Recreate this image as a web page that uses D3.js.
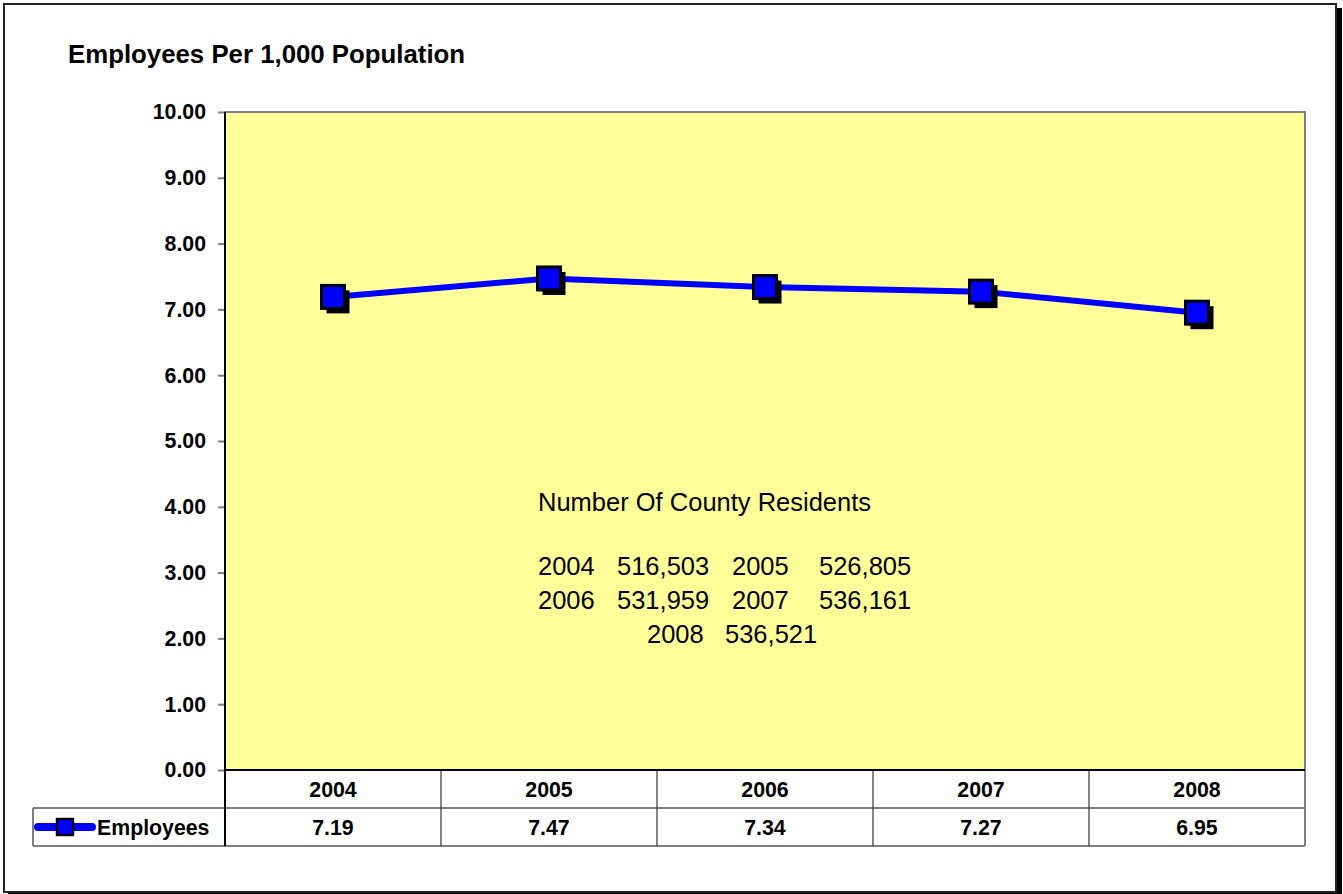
<!DOCTYPE html>
<html>
<head>
<meta charset="utf-8">
<script src="https://cdn.jsdelivr.net/npm/d3@7"></script>
<style>
  html, body { margin: 0; padding: 0; background: #fff; }
  svg { display: block; font-family: Arial, "Liberation Sans", sans-serif; }
</style>
</head>
<body>
<svg id="chart" width="1343" height="894"></svg>
<script>
// Employees per 1,000 population, 2004–2008
const years = ["2004", "2005", "2006", "2007", "2008"];
const employees = [7.19, 7.47, 7.34, 7.27, 6.95];
const seriesName = "Employees";
const yTicks = [0, 1, 2, 3, 4, 5, 6, 7, 8, 9, 10];
const chartTitle = "Employees Per 1,000 Population";

// County population note
const noteTitle = "Number Of County Residents";
const residentYears = [2004, 2005, 2006, 2007, 2008];
const residents = [516503, 526805, 531959, 536161, 536521];

const svg = d3.select("#chart");
const plot = { left: 225, right: 1305, top: 112, bottom: 770 };
const rowH = 38;

// Outer frame with drop shadow
svg.append("rect").attr("x", 8).attr("y", 8).attr("width", 1334).attr("height", 890).attr("fill", "#000");
svg.append("rect").attr("x", 4).attr("y", 4).attr("width", 1332).attr("height", 888)
  .attr("fill", "#fff").attr("stroke", "#222").attr("stroke-width", 2);

// Title
svg.append("text").attr("x", 68).attr("y", 63)
  .attr("font-size", 25.8).attr("font-weight", "bold").attr("fill", "#000")
  .text(chartTitle);

const x = d3.scalePoint().domain(years).range([plot.left, plot.right]).padding(0.5);
const band = (plot.right - plot.left) / years.length;
const y = d3.scaleLinear().domain([0, 10]).range([plot.bottom, plot.top]);

// Plot background
svg.append("rect").attr("x", plot.left).attr("y", plot.top)
  .attr("width", plot.right - plot.left).attr("height", plot.bottom - plot.top)
  .attr("fill", "#FFFF99").attr("stroke", "#808080").attr("stroke-width", 2);

// Y axis
const yAxis = d3.axisLeft(y).tickValues(yTicks).tickFormat(d3.format(".2f")).tickSizeOuter(0).tickSize(7).tickPadding(12);
const gy = svg.append("g").attr("transform", `translate(${plot.left},0)`).call(yAxis);
gy.select(".domain").remove();
gy.selectAll(".tick line").attr("stroke", "#808080").attr("stroke-width", 2);
gy.selectAll(".tick text").attr("font-size", 21.3).attr("font-weight", "bold")
  .attr("font-family", "Arial, 'Liberation Sans', sans-serif").attr("fill", "#000");

// Data table under the plot
const tbl = svg.append("g");
const rowTop = plot.bottom, rowMid = plot.bottom + rowH, rowBot = plot.bottom + 2 * rowH;
const legendLeft = 33;
// horizontal rules
tbl.append("line").attr("x1", legendLeft).attr("x2", plot.right).attr("y1", rowMid).attr("y2", rowMid)
  .attr("stroke", "#808080").attr("stroke-width", 2);
tbl.append("line").attr("x1", legendLeft).attr("x2", plot.right).attr("y1", rowBot).attr("y2", rowBot)
  .attr("stroke", "#808080").attr("stroke-width", 2);
tbl.append("line").attr("x1", legendLeft).attr("x2", legendLeft).attr("y1", rowMid).attr("y2", rowBot)
  .attr("stroke", "#808080").attr("stroke-width", 2);
tbl.append("line").attr("x1", plot.right).attr("x2", plot.right).attr("y1", rowTop).attr("y2", rowBot)
  .attr("stroke", "#808080").attr("stroke-width", 2);
// column dividers
tbl.selectAll("line.div").data(years.slice(1)).enter().append("line").attr("class", "div")
  .attr("x1", d => x(d) - band / 2).attr("x2", d => x(d) - band / 2)
  .attr("y1", rowTop).attr("y2", rowBot).attr("stroke", "#333").attr("stroke-width", 1.2);
// category headers
tbl.selectAll("text.cat").data(years).enter().append("text").attr("class", "cat")
  .attr("x", d => x(d)).attr("y", rowTop + rowH / 2).attr("dy", "0.36em")
  .attr("text-anchor", "middle").attr("font-size", 21.3).attr("font-weight", "bold").text(d => d);
// values row
tbl.selectAll("text.val").data(employees).enter().append("text").attr("class", "val")
  .attr("x", (d, i) => x(years[i])).attr("y", rowMid + rowH / 2).attr("dy", "0.36em")
  .attr("text-anchor", "middle").attr("font-size", 21.3).attr("font-weight", "bold")
  .text(d => d3.format(".2f")(d));

// axis lines (left and bottom)
svg.append("line").attr("x1", plot.left).attr("x2", plot.left).attr("y1", plot.top).attr("y2", rowBot)
  .attr("stroke", "#000").attr("stroke-width", 2);
svg.append("line").attr("x1", plot.left).attr("x2", plot.right).attr("y1", plot.bottom).attr("y2", plot.bottom)
  .attr("stroke", "#000").attr("stroke-width", 2);

// Legend key inside the table
const lg = tbl.append("g");
const lgY = rowMid + rowH / 2;
lg.append("line").attr("x1", 38).attr("x2", 92).attr("y1", lgY).attr("y2", lgY)
  .attr("stroke", "#0000FF").attr("stroke-width", 8).attr("stroke-linecap", "round");
lg.append("rect").attr("x", 57).attr("y", lgY - 8).attr("width", 16).attr("height", 16)
  .attr("fill", "#0000FF").attr("stroke", "#000").attr("stroke-width", 2.4);
lg.append("text").attr("x", 97).attr("y", lgY).attr("dy", "0.36em")
  .attr("font-size", 21.3).attr("font-weight", "bold").text(seriesName);

// Series line
const pts = employees.map((v, i) => [x(years[i]), y(v)]);
svg.append("path").datum(pts).attr("d", d3.line())
  .attr("fill", "none").attr("stroke", "#0000FF").attr("stroke-width", 6).attr("stroke-linejoin", "round");

// Markers with shadow
const ms = 23;
const mk = svg.append("g");
mk.selectAll("rect.sh").data(pts).enter().append("rect").attr("class", "sh")
  .attr("x", d => d[0] - ms / 2 + 5).attr("y", d => d[1] - ms / 2 + 5)
  .attr("width", ms).attr("height", ms).attr("fill", "#000");
mk.selectAll("rect.m").data(pts).enter().append("rect").attr("class", "m")
  .attr("x", d => d[0] - ms / 2).attr("y", d => d[1] - ms / 2)
  .attr("width", ms).attr("height", ms).attr("fill", "#0000FF").attr("stroke", "#000").attr("stroke-width", 3);

// Population note
const fmt = d3.format(",");
const note = svg.append("g").attr("font-size", 25.5).attr("fill", "#000");
const nx = 538;
note.append("text").attr("x", nx).attr("y", 511).text(noteTitle);
const colOff = [[0, 79], [194, 281]];
residentYears.forEach((yr, i) => {
  let row, ox, vx;
  if (i < 4) { row = Math.floor(i / 2); ox = colOff[i % 2][0]; vx = colOff[i % 2][1]; }
  else { row = 2; ox = 109; vx = 187; }
  const ty = 575 + row * 34;
  note.append("text").attr("x", nx + ox).attr("y", ty).text(yr);
  note.append("text").attr("x", nx + vx).attr("y", ty).text(fmt(residents[i]));
});
</script>
</body>
</html>
